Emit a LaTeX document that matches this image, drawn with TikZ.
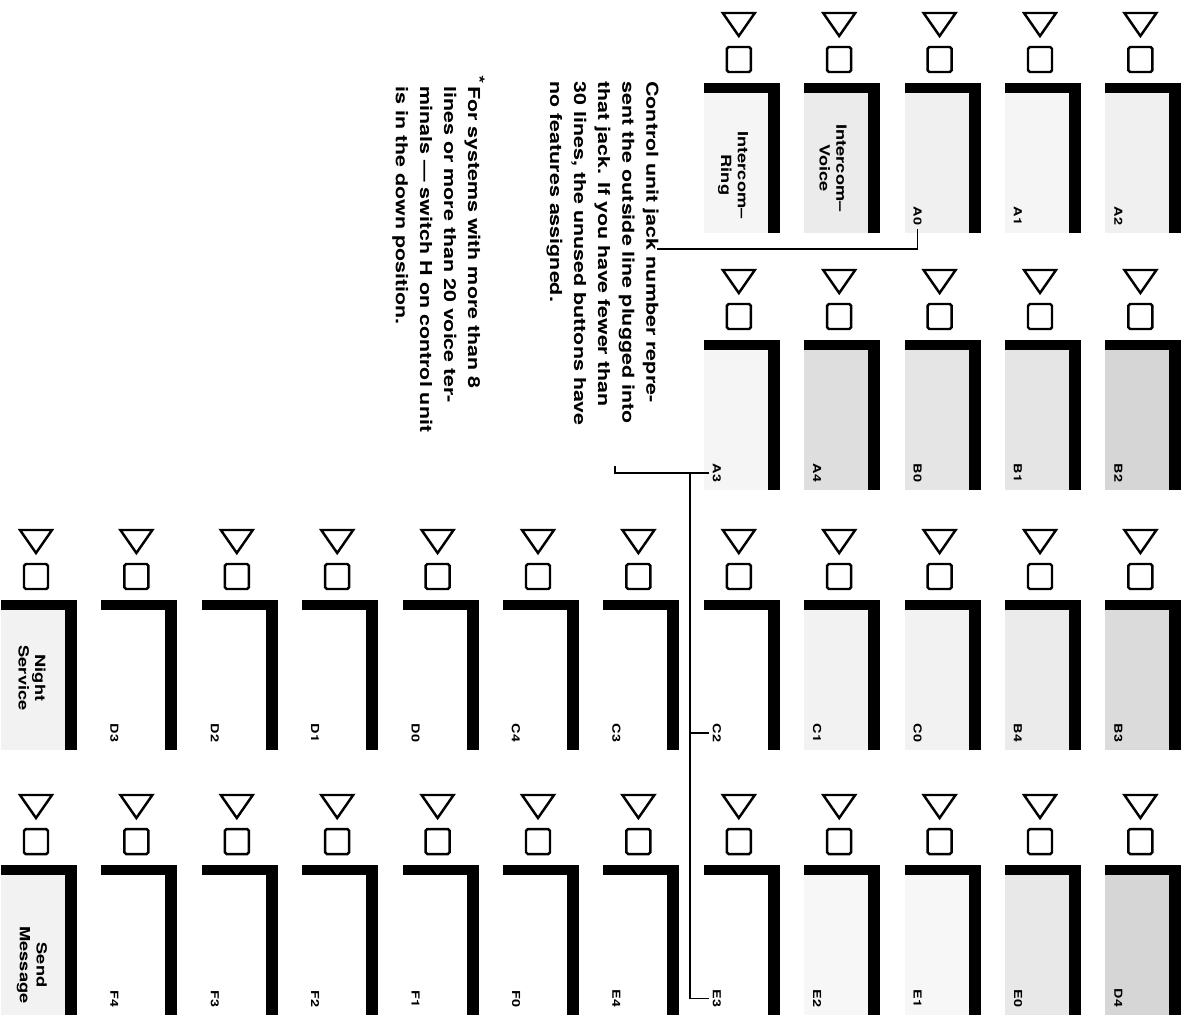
\documentclass[tikz,border=0pt]{standalone}
\usepackage{fontspec}
\newfontfamily\helvx[Ligatures=TeX, FakeStretch=1.3]{TeX Gyre Heros}
\begin{document}
\begin{tikzpicture}[x=0.02cm, y=-0.02cm,
  lamp/.style={line width=1.4pt},
  lead/.style={line width=0.8pt},
  jacklbl/.style={rotate=-90, anchor=east, inner sep=2pt, font=\helvx\bfseries\fontsize{6.3}{7}\selectfont},
  featlbl/.style={rotate=-90, align=center, inner sep=0pt, font=\helvx\bfseries\fontsize{8}{9.5}\selectfont},
  note/.style={rotate=-90, anchor=north west, align=left, inner sep=0pt, font=\helvx\bfseries\fontsize{9.4}{13.7}\selectfont}]
\useasboundingbox (0,0) rectangle (1193,1019);
\newcommand{\keyframe}[3]{%
  \fill[black!#3] (#1-35,#2+10) rectangle (#1+29,#2+150);
  \fill (#1-35,#2) rectangle (#1+41,#2+10);
  \fill (#1+29,#2) rectangle (#1+41,#2+150);
  \draw[lamp] (#1-16,#2-70) -- (#1+16,#2-70) -- (#1,#2-47) -- cycle;
  \draw[lamp, rounded corners=1pt] (#1-12,#2-36) rectangle (#1+12,#2-11);}
\newcommand{\jackkey}[4]{%
  \keyframe{#1}{#2}{#4}
  \node[jacklbl] (#3) at (#1-22,#2+146) {#3};}
\keyframe{738.8}{83}{4}
\keyframe{839.2}{83}{8}
\node[featlbl] (icring) at (733,175) {Intercom--\\Ring};
\node[featlbl] (icvoice) at (833,168) {Intercom--\\Voice};
\foreach \i/\nm/\sh in {9/A0/6, 10/A1/4, 11/A2/6} {
  \pgfmathsetmacro\xc{36+100.4*\i}
  \jackkey{\xc}{83}{\nm}{\sh}}
\foreach \i/\nm/\sh in {7/A3/4, 8/A4/13, 9/B0/10, 10/B1/10, 11/B2/16} {
  \pgfmathsetmacro\xc{36+100.4*\i}
  \jackkey{\xc}{340}{\nm}{\sh}}
\keyframe{36}{600}{5}
\node[featlbl] (nightsvc) at (32,678) {Night\\Service};
\foreach \i/\nm/\sh in {1/D3/0, 2/D2/0, 3/D1/0, 4/D0/0, 5/C4/0, 6/C3/0, 7/C2/0, 8/C1/5, 9/C0/5, 10/B4/8, 11/B3/14} {
  \pgfmathsetmacro\xc{36+100.4*\i}
  \jackkey{\xc}{600}{\nm}{\sh}}
\keyframe{36}{865}{5}
\node[featlbl] (sendmsg) at (32,965) {Send\\Message};
\foreach \i/\nm/\sh in {1/F4/0, 2/F3/0, 3/F2/0, 4/F1/0, 5/F0/0, 6/E4/0, 7/E3/0, 8/E2/3, 9/E1/3, 10/E0/9, 11/D4/16} {
  \pgfmathsetmacro\xc{36+100.4*\i}
  \jackkey{\xc}{865}{\nm}{\sh}}
\node[note] (jacknote) at (659,81) {Control unit jack number repre-\\sent the outside line plugged into\\that jack. If you have fewer than\\30 lines, the unused buttons have\\no features assigned.};
\node[note] (switchnote) at (485,86) {\llap{\raisebox{0.5ex}{*}\,}For systems with more than 8\\lines or more than 20 voice ter-\\minals --- switch H on control unit\\is in the down position.};
\coordinate (jackend) at (657,249);
\coordinate (noteend) at (615,466);
\coordinate (busx) at (690,0);
\draw[lead] (A0.east) |- (jackend);
\draw[lead] (noteend) |- (A3.south);
\draw[lead] (busx |- A3.south) |- (E3.south);
\draw[lead] (busx |- C2.south) -- (C2.south);
\end{tikzpicture}
\end{document}
